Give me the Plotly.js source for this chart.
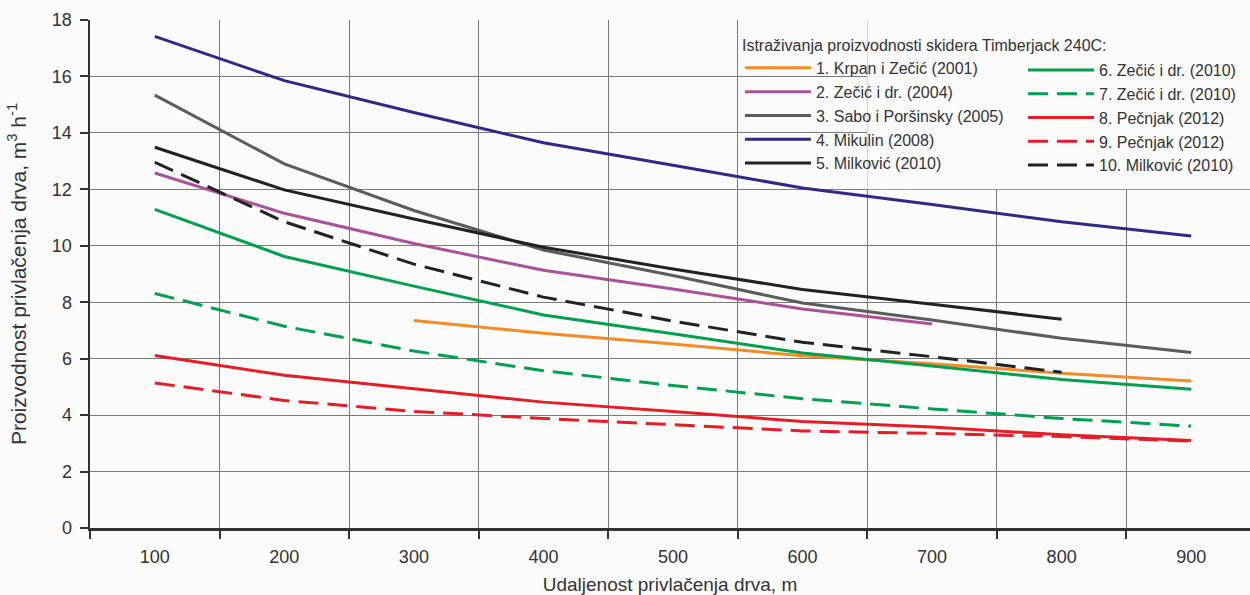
<!DOCTYPE html>
<html>
<head>
<meta charset="utf-8">
<script src="https://cdn.plot.ly/plotly-3.0.1.min.js"></script>
<style>html,body{margin:0;padding:0;background:#fbfbfb;}#chart{width:1250px;height:595px;}</style>
</head>
<body>
<div id="chart"></div>
<script>
// distances (m)
const dist = [100, 200, 300, 400, 500, 600, 700, 800, 900];
const dist300 = [300, 400, 500, 600, 700, 800, 900];
const dist700 = [100, 200, 300, 400, 500, 600, 700];
const dist800 = [100, 200, 300, 400, 500, 600, 700, 800];

// productivity (m3/h)
const krpan2001   = [7.35, 6.9, 6.52, 6.1, 5.82, 5.48, 5.21];
const zecic2004   = [12.58, 11.15, 10.08, 9.13, 8.47, 7.76, 7.23];
const sabo2005    = [15.34, 12.9, 11.25, 9.85, 8.95, 7.97, 7.37, 6.72, 6.22];
const mikulin2008 = [17.42, 15.85, 14.72, 13.65, 12.85, 12.05, 11.46, 10.85, 10.35];
const milkovic2010a = [13.49, 11.98, 10.95, 9.95, 9.18, 8.45, 7.93, 7.4];
const zecic2010a  = [11.29, 9.62, 8.57, 7.55, 6.88, 6.2, 5.74, 5.26, 4.92];
const zecic2010b  = [8.31, 7.15, 6.27, 5.57, 5.05, 4.58, 4.22, 3.88, 3.61];
const pecnjak2012a = [6.11, 5.41, 4.93, 4.46, 4.13, 3.77, 3.58, 3.3, 3.1];
const pecnjak2012b = [5.14, 4.52, 4.13, 3.88, 3.66, 3.44, 3.35, 3.24, 3.08];
const milkovic2010b = [12.96, 10.85, 9.35, 8.18, 7.33, 6.58, 6.07, 5.52];

const names = ['1. Krpan i Zečić (2001)', '2. Zečić i dr. (2004)', '3. Sabo i Poršinsky (2005)', '4. Mikulin (2008)', '5. Milković (2010)',
               '6. Zečić i dr. (2010)', '7. Zečić i dr. (2010)', '8. Pečnjak (2012)', '9. Pečnjak (2012)', '10. Milković (2010)'];
const xTickLabels = ['100','200','300','400','500','600','700','800','900'];
const legendTitle = 'Istraživanja proizvodnosti skidera Timberjack 240C:';

const FONT = '"Liberation Sans Narrow", "Liberation Sans", Arial, sans-serif';
const C = {orange:'#F28C28', pink:'#A9529B', grey:'#5B5E57', blue:'#2E2A86', black:'#222222', green:'#00A04F', red:'#E31E26'};
const DASH = '20px,9px';

function tr(x, y, name, color, dash, legend) {
  return {x: x, y: y, name: name, type: 'scatter', mode: 'lines',
          line: {color: color, width: 3, dash: dash || 'solid'}, legend: legend, hoverinfo: 'skip'};
}

const data = [
  tr(dist300, krpan2001, names[0], C.orange, null, 'legend'),
  tr(dist700, zecic2004, names[1], C.pink, null, 'legend'),
  tr(dist, sabo2005, names[2], C.grey, null, 'legend'),
  tr(dist, mikulin2008, names[3], C.blue, null, 'legend'),
  tr(dist800, milkovic2010a, names[4], C.black, null, 'legend'),
  tr(dist, zecic2010a, names[5], C.green, null, 'legend2'),
  tr(dist, zecic2010b, names[6], C.green, DASH, 'legend2'),
  tr(dist, pecnjak2012a, names[7], C.red, null, 'legend2'),
  tr(dist, pecnjak2012b, names[8], C.red, DASH, 'legend2'),
  tr(dist800, milkovic2010b, names[9], C.black, DASH, 'legend2'),
  // carrier for the label axis (no visible marks)
  {x: [null], y: [null], xaxis: 'x2', yaxis: 'y', type: 'scatter', mode: 'lines', showlegend: false, hoverinfo: 'skip'}
];

const layout = {
  width: 1250, height: 595,
  margin: {l: 90, r: 0, t: 20, b: 67},
  paper_bgcolor: '#fbfbfb', plot_bgcolor: '#fbfbfb',
  font: {family: FONT, size: 18, color: '#333'},
  showlegend: true,
  xaxis: {
    range: [50, 945.4], tickvals: [50,150,250,350,450,550,650,750,850,950],
    showticklabels: false, ticks: 'outside', ticklen: 8, tickwidth: 2, tickcolor: '#333',
    showgrid: true, gridcolor: '#7a7a7a', gridwidth: 1,
    showline: true, linecolor: '#333', linewidth: 2.5, zeroline: false
  },
  xaxis2: {
    overlaying: 'x', anchor: 'y', side: 'bottom',
    range: [50, 945.4], tickvals: dist, ticktext: xTickLabels,
    ticks: '', showgrid: false, showline: false, zeroline: false,
    ticklabelstandoff: 16, tickfont: {size: 18, color: '#333'},
    title: {text: 'Udaljenost privlačenja drva, m', font: {size: 19, color: '#333'}, standoff: 12}
  },
  yaxis: {
    range: [0, 18], dtick: 2, tick0: 0,
    ticks: 'outside', ticklen: 8, tickwidth: 2, tickcolor: '#333',
    showgrid: true, gridcolor: '#7a7a7a', gridwidth: 1,
    showline: true, linecolor: '#333', linewidth: 2.5, zeroline: false,
    ticklabelstandoff: 4, tickfont: {size: 18, color: '#333'},
    title: {text: 'Proizvodnost privlačenja drva, m<sup>3</sup> h<sup>-1</sup>', font: {size: 21, color: '#333'}, standoff: 20}
  },
  shapes: [{type: 'rect', layer: 'between', xref: 'x', yref: 'y', x0: 650, x1: 945.4, y0: 12, y1: 18,
            fillcolor: '#fbfbfb', line: {width: 0}}],
  legend: {
    x: 0.5603, y: 0.98, xanchor: 'left', yanchor: 'top', orientation: 'v', itemwidth: 66,
    bgcolor: 'rgba(0,0,0,0)', borderwidth: 0, font: {size: 16, color: '#333'},
    title: {text: legendTitle, side: 'top', font: {size: 16, color: '#333'}},
    tracegroupgap: 0
  },
  legend2: {
    x: 0.8043, y: 0.935, xanchor: 'left', yanchor: 'top', orientation: 'v', itemwidth: 66,
    bgcolor: 'rgba(0,0,0,0)', borderwidth: 0, font: {size: 16, color: '#333'},
    tracegroupgap: 0
  }
};

Plotly.newPlot('chart', data, layout, {staticPlot: true});
</script>
</body>
</html>
